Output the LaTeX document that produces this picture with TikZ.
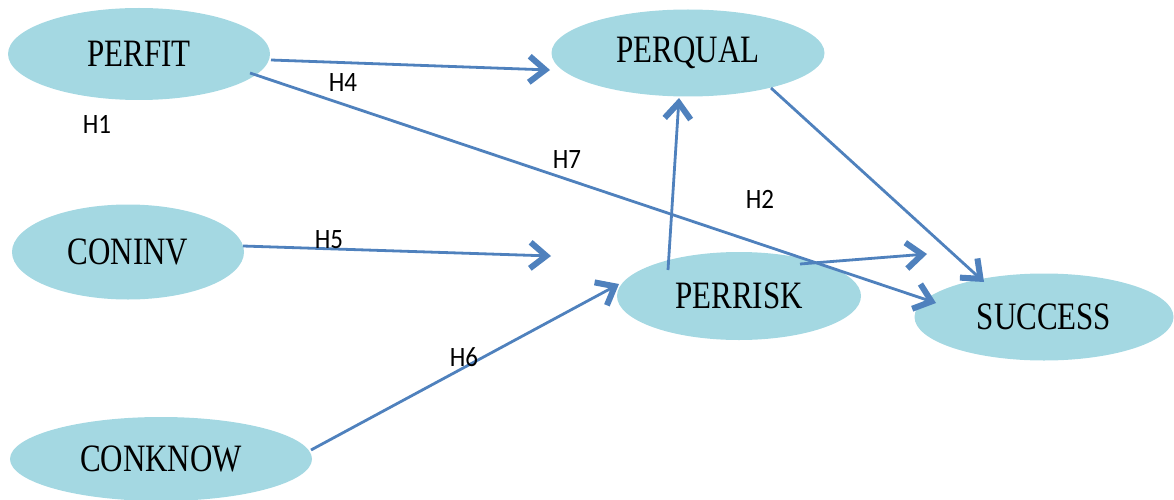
\documentclass[tikz,border=0pt]{standalone}
\usepackage{fontspec}
\setmainfont{Liberation Serif}
\newfontfamily\labfont{Carlito}
\usetikzlibrary{shapes.geometric,arrows.meta,calc}
\definecolor{ellfill}{RGB}{164,216,226}
\definecolor{arrowblue}{RGB}{79,129,189}
\newcommand\cname[1]{\scalebox{1}[1.25]{\fontsize{31}{36}\selectfont #1}}
\newcommand\hname[1]{\scalebox{1}[1.12]{\labfont\fontsize{25}{30}\selectfont #1}}
\begin{document}
\begin{tikzpicture}[x=1pt,y=-1pt,
  construct/.style={ellipse,fill=ellfill,inner sep=0pt},
  link/.style={draw=arrowblue,line width=2.8pt,
    -{Straight Barb[length=16pt,width=26pt,line width=6pt 0 1]}},
  hlabel/.style={inner sep=0pt,text=black}]
\useasboundingbox (0,0) rectangle (1174,500);
\node[construct,minimum width=262pt,minimum height=92pt] (perfit) at (139,54) {\cname{PERFIT}};
\node[construct,minimum width=273pt,minimum height=87pt] (perqual) at (688,53) {\cname{PERQUAL}};
\node[construct,minimum width=232pt,minimum height=95pt] (coninv) at (128,252) {\cname{CONINV}};
\node[construct,minimum width=244pt,minimum height=88pt] (perrisk) at (739,296) {\cname{PERRISK}};
\node[construct,minimum width=259pt,minimum height=87pt] (success) at (1044,317) {\cname{SUCCESS}};
\node[construct,minimum width=302pt,minimum height=84pt] (conknow) at (161,459) {\cname{CONKNOW}};
\coordinate (endH5) at (551,256);
\coordinate (endRS) at (927,254);
\draw[link] ($(perfit)+(132,6)$) -- ($(perqual)+(-138,17)$);
\draw[link] ($(perfit)+(111,19)$) -- ($(success)+(-108,-14)$);
\draw[link] ($(perqual)+(83,35)$) -- ($(success)+(-60,-35)$);
\draw[link] ($(coninv)+(115,-6)$) -- (endH5);
\draw[link] ($(perrisk)+(-71,-26)$) -- ($(perqual)+(-9,45)$);
\draw[link] ($(perrisk)+(61,-32)$) -- (endRS);
\draw[link] ($(conknow)+(150,-9)$) -- ($(perrisk)+(-120,-12)$);
\node[hlabel] (h1) at (97,124) {\hname{H1}};
\node[hlabel] (h4) at (343,83) {\hname{H4}};
\node[hlabel] (h7) at (567,160) {\hname{H7}};
\node[hlabel] (h2) at (760,199) {\hname{H2}};
\node[hlabel] (h5) at (329,240) {\hname{H5}};
\node[hlabel] (h6) at (464,357) {\hname{H6}};
\end{tikzpicture}
\end{document}
